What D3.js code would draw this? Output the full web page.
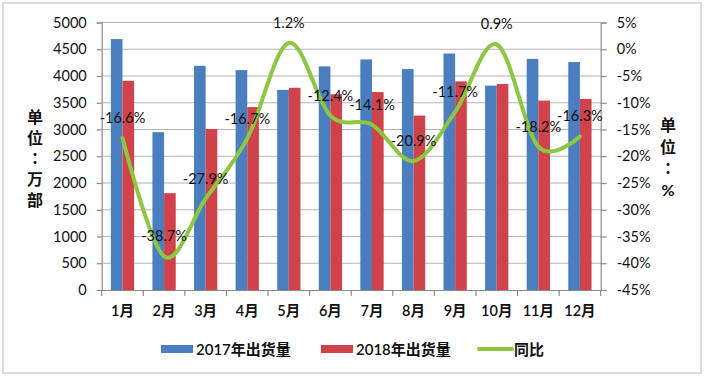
<!DOCTYPE html>
<html><head><meta charset="utf-8">
<script src="https://cdn.jsdelivr.net/npm/d3@7"></script>
<style>
body{margin:0;background:#fff;}
text{font-family:Lato,"Noto Sans CJK SC",sans-serif;fill:#111;}
</style></head>
<body><svg id="c" width="706" height="379"></svg>
<script>
const categories = ["1月","2月","3月","4月","5月","6月","7月","8月","9月","10月","11月","12月"];
const ship2017 = [4690,2950,4190,4110,3740,4180,4310,4130,4420,3820,4320,4260];
const ship2018 = [3910,1810,3010,3420,3780,3660,3700,3260,3900,3850,3540,3570];
const yoy = [-16.6,-38.7,-27.9,-16.7,1.2,-12.4,-14.1,-20.9,-11.7,0.9,-18.2,-16.3];
const leftTicks = [0,500,1000,1500,2000,2500,3000,3500,4000,4500,5000];
const rightTicks = [5,0,-5,-10,-15,-20,-25,-30,-35,-40,-45];
const seriesNames = ["2017年出货量","2018年出货量","同比"];

const svg = d3.select("#c");
const L=101.7, R=600.7, T=22.5, B=290;
const x = d3.scaleBand().domain(categories).range([L,R]);
const y = d3.scaleLinear().domain([0,5000]).range([B,T]);
const y2 = d3.scaleLinear().domain([-45,5]).range([B,T]);
const blue="#4a7ebf", red="#d0434b", green="#8dc641";

svg.append("rect").attr("x",3).attr("y",3).attr("width",698).attr("height",370)
  .attr("fill","#fff").attr("stroke","#c4c4c4").attr("stroke-width",1.2);

// gridlines
svg.append("g").selectAll("line").data(leftTicks.filter(d=>d>0)).join("line")
  .attr("x1",L).attr("x2",R).attr("y1",d=>y(d)).attr("y2",d=>y(d))
  .attr("stroke","#b4b4b4").attr("stroke-width",1.2);

// left axis
const ga = svg.append("g").attr("transform",`translate(${L},0)`)
  .call(d3.axisLeft(y).tickValues(leftTicks).tickSize(5).tickPadding(10).tickFormat(d3.format("d")));
ga.select(".domain").attr("stroke","#8a8a8a").attr("stroke-width",1.2);
ga.selectAll(".tick line").attr("stroke","#8a8a8a").attr("stroke-width",1.2);
ga.selectAll("text").attr("font-size",14.5).attr("fill","#111").attr("font-family",null);

// right axis
const gr = svg.append("g").attr("transform",`translate(${R},0)`)
  .call(d3.axisRight(y2).tickValues(rightTicks).tickSize(6).tickPadding(10).tickFormat(d=>d+"%"));
gr.select(".domain").attr("stroke","#8a8a8a").attr("stroke-width",1.2);
gr.selectAll(".tick line").attr("stroke","#8a8a8a").attr("stroke-width",1.2);
gr.selectAll("text").attr("font-size",14.5).attr("fill","#111").attr("font-family",null);

// bottom axis
const gb = svg.append("g").attr("transform",`translate(0,${B})`)
  .call(d3.axisBottom(x).tickSize(0).tickPadding(16));
gb.select(".domain").attr("stroke","#8a8a8a").attr("stroke-width",1.2);
gb.selectAll("text").attr("font-size",14.5).attr("fill","#111").attr("font-weight",600).attr("font-family",null);
svg.append("g").selectAll("line").data(d3.range(categories.length+1)).join("line")
  .attr("x1",i=>L+i*x.step()).attr("x2",i=>L+i*x.step()).attr("y1",B).attr("y2",B+6)
  .attr("stroke","#8a8a8a").attr("stroke-width",1.2);

// bars
const bw = x.bandwidth()*0.28;
svg.append("g").selectAll("rect").data(ship2017).join("rect")
  .attr("x",(d,i)=>x(categories[i])+x.bandwidth()/2-bw).attr("width",bw)
  .attr("y",d=>y(d)).attr("height",d=>B-y(d)).attr("fill",blue);
svg.append("g").selectAll("rect").data(ship2018).join("rect")
  .attr("x",(d,i)=>x(categories[i])+x.bandwidth()/2).attr("width",bw)
  .attr("y",d=>y(d)).attr("height",d=>B-y(d)).attr("fill",red);

// line
const line = d3.line().x((d,i)=>x(categories[i])+x.bandwidth()/2).y(d=>y2(d))
  .curve(d3.curveCardinal.tension(0));
svg.append("path").datum(yoy).attr("d",line).attr("fill","none")
  .attr("stroke",green).attr("stroke-width",4).attr("stroke-linecap","round");

// data labels
svg.append("g").selectAll("text").data(yoy).join("text")
  .attr("x",(d,i)=>x(categories[i])+x.bandwidth()/2).attr("y",d=>y2(d)-15)
  .attr("text-anchor","middle").attr("font-size",14.5).text(d=>d.toFixed(1)+"%");

// axis titles
const lt = ["单","位","：","万","部"];
svg.append("g").selectAll("text").data(lt).join("text")
  .attr("x",35).attr("y",(d,i)=>123+i*20.7).attr("text-anchor","middle")
  .attr("font-size",16).attr("font-weight",700)
  .style("font-family",d=>d==="："?"'Noto Sans CJK TC',sans-serif":null).text(d=>d);
const rt = ["单","位","：","%"];
svg.append("g").selectAll("text").data(rt).join("text")
  .attr("x",668).attr("y",(d,i)=>131+i*21.7).attr("text-anchor","middle")
  .attr("font-size",16).attr("font-weight",700)
  .style("font-family",d=>d==="："?"'Noto Sans CJK TC',sans-serif":null).text(d=>d);

// legend
const lg = svg.append("g");
lg.append("rect").attr("x",161).attr("y",345).attr("width",32).attr("height",8).attr("fill",blue);
lg.append("text").attr("x",196).attr("y",354.5).attr("font-size",15).attr("font-weight",600).text(seriesNames[0]);
lg.append("rect").attr("x",321).attr("y",345).attr("width",32).attr("height",8).attr("fill",red);
lg.append("text").attr("x",356).attr("y",354.5).attr("font-size",15).attr("font-weight",600).text(seriesNames[1]);
lg.append("line").attr("x1",479).attr("x2",512).attr("y1",349).attr("y2",349).attr("stroke",green).attr("stroke-width",4).attr("stroke-linecap","round");
lg.append("text").attr("x",514).attr("y",354.5).attr("font-size",15).attr("font-weight",600).text(seriesNames[2]);
</script></body></html>
